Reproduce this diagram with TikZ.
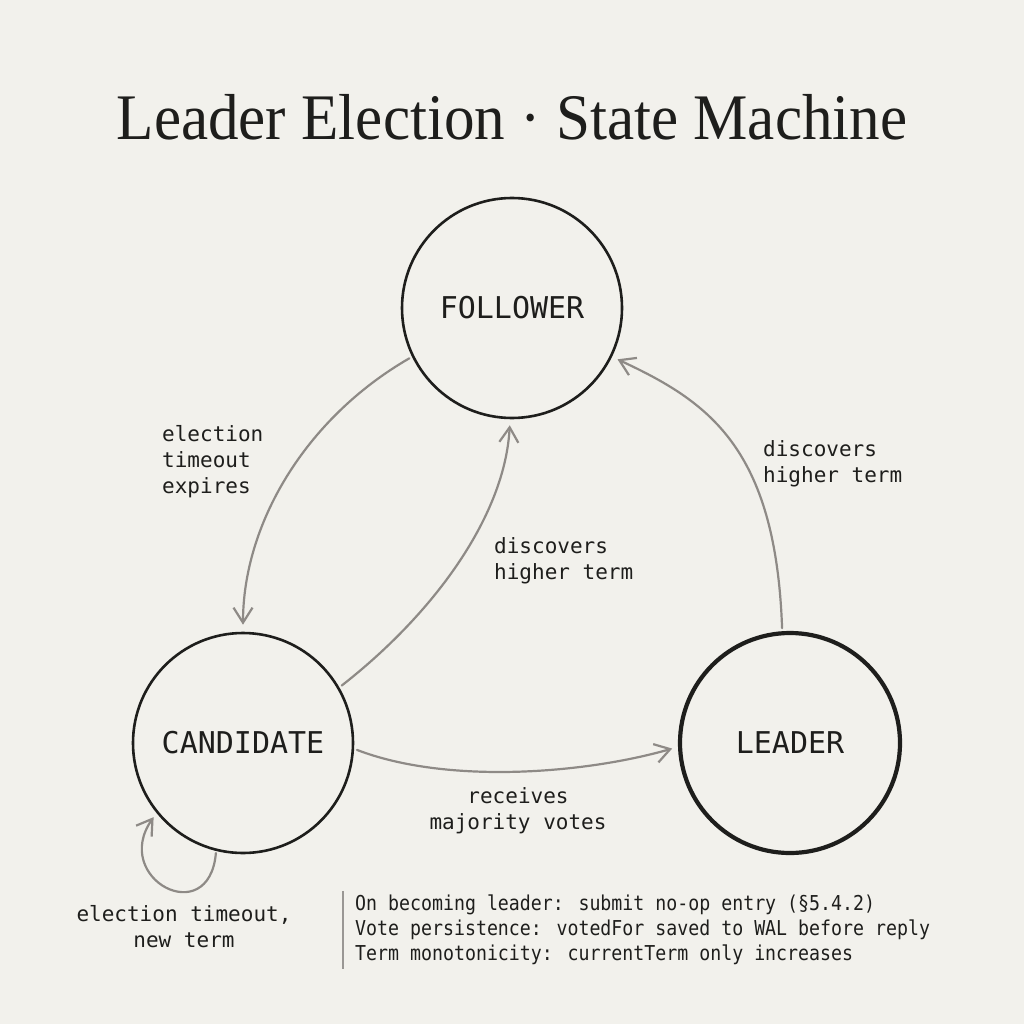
\documentclass[tikz,border=0pt]{standalone}
\usepackage{fontspec}
\setmainfont{Liberation Serif}
\setmonofont{DejaVu Sans Mono}
\newfontfamily\titlefont{Liberation Serif}[FakeStretch=0.94]
\newfontfamily\notefont{DejaVu Sans Mono}[FakeStretch=0.89]
\usetikzlibrary{arrows.meta}
\definecolor{paper}{HTML}{F2F1EC}
\definecolor{ink}{HTML}{1E1E1C}
\definecolor{edgegray}{HTML}{8E8A86}
\definecolor{rulegray}{HTML}{9A9794}

\begin{document}
\begin{tikzpicture}[
  x=1pt, y=-1pt,
  title/.style={text=ink, inner sep=0pt, anchor=base,
                font=\titlefont\fontsize{65}{70}\selectfont},
  state/.style={draw=ink, circle, line width=2.6pt, minimum size=220pt,
                inner sep=0pt, text=ink, font=\ttfamily\fontsize{30}{36}\selectfont},
  active/.style={state, line width=4.2pt},
  lbl/.style={text=ink, inner sep=0pt, font=\ttfamily\fontsize{21}{26}\selectfont},
  note/.style={text=ink, inner xsep=12pt, inner ysep=4pt, align=left,
               font=\notefont\fontsize{20.5}{25}\selectfont},
  flow/.style={draw=edgegray, line width=2.2pt, line cap=round,
               -{Straight Barb[length=15pt,width=19pt]},
               shorten <=3pt, shorten >=6pt}
]
  \fill[paper] (0,0) rectangle (1024,1024);
  \useasboundingbox (0,0) rectangle (1024,1024);

  \node[title] (head) at (512,140) {Leader Election · State Machine};

  \node[state] (follower) at (512,308) {FOLLOWER};
  \node[state] (candidate) at (243,743) {CANDIDATE};
  \node[active] (leader) at (790,743) {LEADER};

  \node[lbl, anchor=west, align=left] (expirelbl) at (162,462) {election\\timeout\\expires};
  \node[lbl, anchor=west, align=left] (steplbl) at (494,561) {discovers\\higher term};
  \node[lbl, anchor=west, align=left] (demotelbl) at (763,464) {discovers\\higher term};
  \node[lbl, align=center] (votelbl) at (518,811) {receives\\majority votes};
  \node[lbl, align=center] (retrylbl) at (184,927) {election timeout,\\new term};

  \node[note, anchor=west] (note) at (343,930)
       {On becoming leader: submit no-op entry (§5.4.2)\\
        Vote persistence: votedFor saved to WAL before reply\\
        Term monotonicity: currentTerm only increases};

  \draw[flow, shorten >=7pt] (follower.206) .. controls +(210:124pt) and +(90:107pt) .. (candidate.north);
  \draw[flow] (candidate.30) .. controls +(38:123pt) and +(267:95pt) .. (follower.269);
  \draw[flow] (leader.94) .. controls +(92:185pt) and +(335:105pt) .. (follower.334);
  \draw[flow] (candidate.-3) .. controls +(-21:100pt) and +(196:97pt) .. (leader.182);
  \draw[flow, shorten <=2pt, shorten >=5pt] (candidate.256) .. controls +(-95:80pt) and +(235:80pt) .. (candidate.219);
  \draw[rulegray, line width=1.4pt] (note.north west) -- (note.south west);
\end{tikzpicture}
\end{document}
